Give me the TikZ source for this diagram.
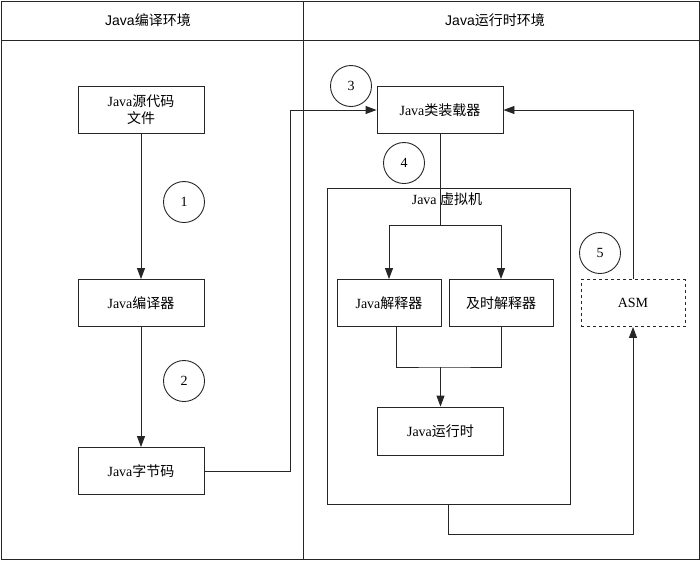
\documentclass[tikz,border=0pt]{standalone}
\usepackage{fontspec}
\setmainfont{Liberation Serif}
\setsansfont{Liberation Sans}
\newfontfamily\cjk{Noto Sans CJK SC}
\usetikzlibrary{arrows.meta}

\begin{document}
\begin{tikzpicture}[x=1pt,y=-1pt,line width=0.9pt,draw=black!85,
  >={Triangle[length=11pt,width=8pt]},
  box/.style={draw,minimum width=126pt,minimum height=47pt,align=center,font=\fontsize{14}{17}\selectfont},
  smallbox/.style={box,minimum width=104pt},
  num/.style={draw,circle,minimum size=41pt,inner sep=0pt,font=\fontsize{14}{16}\selectfont},
  head/.style={font=\sffamily\fontsize{14}{16}\selectfont}]
\useasboundingbox (0,0) rectangle (700,560);
\draw (1,1) rectangle (699,559);
\draw (1,40) -- (699,40);
\draw (303,1) -- (303,559);
\node[head] (hcomp) at (148,20) {Java{\cjk 编译环境}};
\node[head] (hrun) at (495,20) {Java{\cjk 运行时环境}};

\node[box] (src) at (141,110) {Java{\cjk 源代码}\\{\cjk 文件}};
\node[box] (comp) at (141,303) {Java{\cjk 编译器}};
\node[box] (bytec) at (141,471) {Java{\cjk 字节码}};
\node[box] (loader) at (440,110) {Java{\cjk 类装载器}};
\node[draw,minimum width=243pt,minimum height=316pt] (jvm) at (448.5,346) {};
\node[font=\fontsize{14}{17}\selectfont] (jvmlabel) at (447,199) {Java {\cjk 虚拟机}};
\node[smallbox] (interp) at (389,303) {Java{\cjk 解释器}};
\node[smallbox] (jit) at (501,303) {{\cjk 及时解释器}};
\node[box,minimum height=48pt] (rt) at (440.5,431) {Java{\cjk 运行时}};
\node[smallbox,dashed] (asm) at (633,303) {ASM};

\node[num] (n1) at (184,202) {1};
\node[num] (n2) at (184,381) {2};
\node[num] (n3) at (351,86) {3};
\node[num] (n4) at (404,163) {4};
\node[num] (n5) at (600,253) {5};

\draw[->] (src) -- (comp);
\draw[->] (comp) -- (bytec);
\draw[->] (bytec.east) -- ++(86,0) |- (loader.west);
\draw (loader.south) -- ++(0,91) coordinate (split);
\draw[->] (split) -| (interp.north);
\draw[->] (split) -| (jit.north);
\coordinate (merge) at (440.5,367);
\draw ([xshift=7pt]interp.south) |- (merge) -| (jit.south);
\draw[->] (merge) -- (rt);
\draw[->] (jvm.south) -- ++(0,30) -| (asm.south);
\draw[->] (asm.north) |- (loader.east);
\end{tikzpicture}
\end{document}
